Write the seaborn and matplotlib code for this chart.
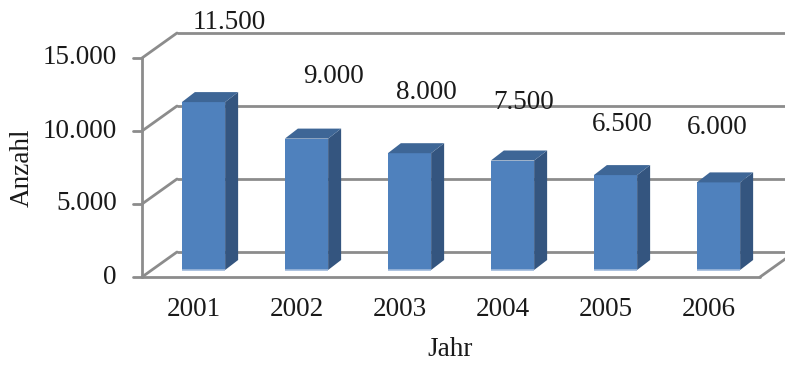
import matplotlib
matplotlib.use("Agg")
import matplotlib.pyplot as plt
import seaborn as sns
import pandas as pd
from matplotlib.patches import Polygon

# ---- data ----
years = ["2001", "2002", "2003", "2004", "2005", "2006"]
counts = [11500, 9000, 8000, 7500, 6500, 6000]
yticks = [0, 5000, 10000, 15000]
ytick_labels = ["0", "5.000", "10.000", "15.000"]
value_labels = ["11.500", "9.000", "8.000", "7.500", "6.500", "6.000"]

df = pd.DataFrame({"Jahr": years, "Anzahl": counts})

sns.set_theme(style="white")
plt.rcParams["font.family"] = ["Liberation Serif", "DejaVu Serif"]

W, H, DPI = 785, 365, 100
FS = 19.5
TXT_C = "#1a1a1a"
fig = plt.figure(figsize=(W / DPI, H / DPI), dpi=DPI)
ax = fig.add_axes([0, 0, 1, 1])
ax.set_axis_off()

# pixel scale of the bar plane
PX_CAT = 103.0            # pixels per category
PX_VAL = 73.0 / 5000.0    # pixels per unit value
X0_PX = 203.5             # pixel x of first category
Y0_PX = 95.0              # pixel y (from bottom) of baseline

def set_limits():
    ax.set_xlim(-X0_PX / PX_CAT, (W - X0_PX) / PX_CAT)
    ax.set_ylim(-Y0_PX / PX_VAL, (H - Y0_PX) / PX_VAL)

set_limits()

def off(px_x, px_y):
    return px_x / PX_CAT, px_y / PX_VAL

FRONT = off(-10, -7)
BACK = off(25, 18)
BAR_D = off(13, 10)

grid_c = "#8C8C8C"
lw = 2.0
xl, xr = -0.5, len(years) - 0.5

# back wall gridlines + left wall diagonals
for v, lab in zip(yticks, ytick_labels):
    ax.plot([xl + BACK[0], xr + BACK[0] + 1], [v + BACK[1]] * 2,
            color=grid_c, lw=lw, zorder=1, solid_capstyle="butt")
    ax.plot([xl + FRONT[0], xl + BACK[0]], [v + FRONT[1], v + BACK[1]],
            color=grid_c, lw=lw, zorder=1)
    ax.plot([xl + FRONT[0] - 9 / PX_CAT, xl + FRONT[0]], [v + FRONT[1]] * 2,
            color=grid_c, lw=lw, zorder=1)
    ax.text(xl + FRONT[0] - 25 / PX_CAT, v + FRONT[1], lab,
            ha="right", va="center", fontsize=FS, color=TXT_C)

# front axis and floor
ax.plot([xl + FRONT[0]] * 2, [FRONT[1], yticks[-1] + FRONT[1]], color=grid_c, lw=lw, zorder=1)
ax.plot([xl + FRONT[0], xr + FRONT[0]], [FRONT[1]] * 2, color=grid_c, lw=lw, zorder=1)
ax.plot([xr + FRONT[0], xr + BACK[0]], [FRONT[1], BACK[1]], color=grid_c, lw=lw, zorder=1)

# bars (front faces)
front_c = "#4F81BD"
sns.barplot(data=df, x="Jahr", y="Anzahl", ax=ax, color=front_c, width=0.42,
            saturation=1, edgecolor="none", zorder=3)
set_limits()

side_c = "#34557F"
top_c = "#3E6696"
for p in ax.patches[:len(years)]:
    x0, y0 = p.get_x(), p.get_y()
    x1, y1 = x0 + p.get_width(), y0 + p.get_height()
    dx, dy = BAR_D
    ax.add_patch(Polygon([(x1, y0), (x1 + dx, y0 + dy), (x1 + dx, y1 + dy), (x1, y1)],
                         closed=True, facecolor=side_c, edgecolor="none", zorder=3))
    ax.add_patch(Polygon([(x0, y1), (x0 + dx, y1 + dy), (x1 + dx, y1 + dy), (x1, y1)],
                         closed=True, facecolor=top_c, edgecolor="none", zorder=3))
    ax.plot([x0, x1], [y0, y0], color="#9DB8DA", lw=1.2, zorder=4, solid_capstyle="butt")

# value labels (offsets in pixels, as positioned in the original)
lab_dx = [26, 27, 17, 11, 7, -1]
lab_dy = [80, 62, 61, 58, 51, 55]
for i, (v, s) in enumerate(zip(counts, value_labels)):
    ax.annotate(s, xy=(i, v), xytext=(lab_dx[i] * 0.72, lab_dy[i] * 0.72),
                textcoords="offset points", ha="center", va="center",
                fontsize=FS, color=TXT_C)

# x tick labels
for i, s in enumerate(years):
    ax.annotate(s, xy=(i + FRONT[0], FRONT[1]), xytext=(0, -33 * 0.72),
                textcoords="offset points", ha="center", va="center",
                fontsize=FS, color=TXT_C)

fig.text(450 / W, 1 - 350 / H, "Jahr", ha="center", va="center", fontsize=FS, color=TXT_C)
fig.text(22 / W, 1 - 168 / H, "Anzahl", ha="center", va="center", rotation=90,
         fontsize=FS, color=TXT_C)

fig.savefig("out.png", dpi=DPI, facecolor="white")
